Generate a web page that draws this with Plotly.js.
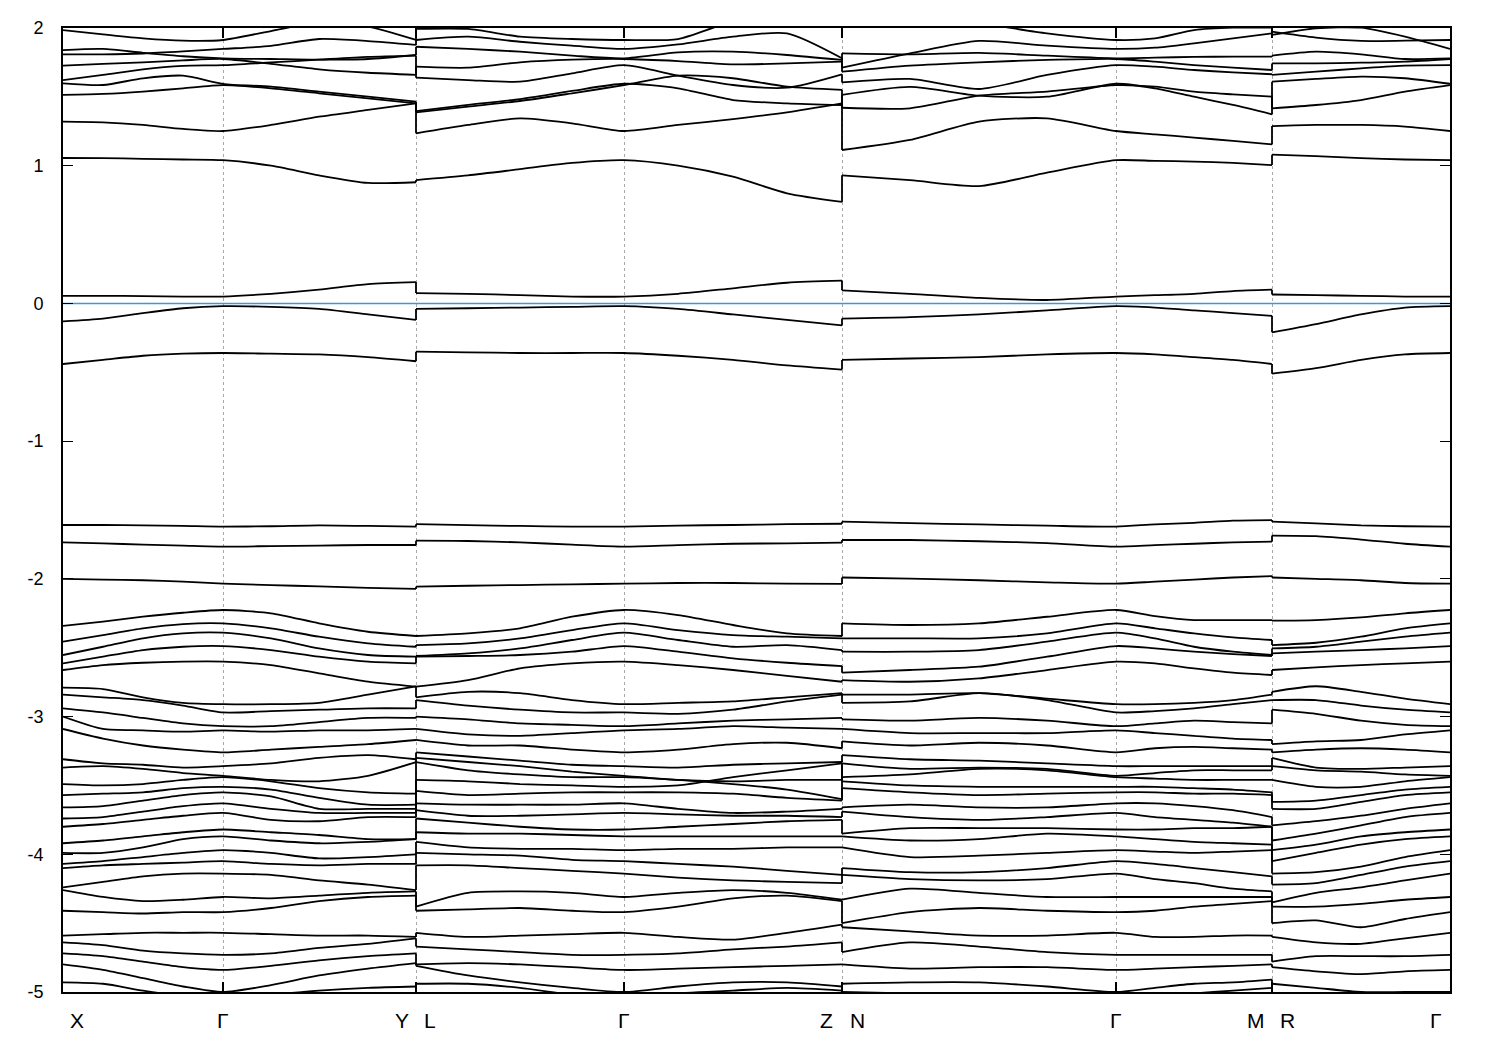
<!DOCTYPE html>
<html>
<head>
<meta charset="utf-8">
<script src="https://cdn.plot.ly/plotly-3.0.1.min.js"></script>
<style>html,body{margin:0;padding:0;background:#fff;}#chart{width:1500px;height:1050px;}</style>
</head>
<body>
<div id="chart"></div>
<script>
// k-path sample positions (path length units); duplicated points are the path breaks Y|L, Z|N, M|R
const kPath = [0,0.40,0.80,1.20,1.60,2.08,2.56,3.05,3.53,
               3.53,4.05,4.57,5.09,5.61,6.15,6.70,7.24,7.79,
               7.79,8.47,9.16,9.84,10.53,10.92,11.31,11.70,12.09,
               12.09,12.53,12.98,13.42,13.87];
const symPointK = [0,1.60,3.53,5.61,7.79,10.53,12.09,13.87];
const kLabels = ["X","Γ","Y","L","Γ","Z","N","Γ","M","R","Γ"];
const kLabelPos = [0,1.60,3.53,3.53,5.61,7.79,7.79,10.53,12.09,12.09,13.87];
const fermiLevel = 0;

// ---- bands above the Fermi level ----
const bandT1 = [1.985,1.954,1.925,1.908,1.913,1.978,2.04,2.01,1.913, 1.993,1.993,1.937,1.92,1.913,1.92,2.046,2.07,2.07, 2.07,2.07,2.034,1.961,1.913,1.925,1.985,2.002,2.002, 1.973,1.93,1.906,1.908,1.913];
const bandT2 = [1.84,1.848,1.82,1.795,1.78,1.775,1.77,1.775,1.804, 1.864,1.848,1.828,1.799,1.78,1.823,1.828,1.804,1.768, 1.816,1.809,1.819,1.799,1.78,1.785,1.79,1.792,1.792, 1.799,1.828,1.809,1.775,1.78];
const bandT3 = [1.809,1.809,1.815,1.83,1.848,1.87,1.92,1.905,1.877, 1.913,1.937,1.90,1.872,1.848,1.881,1.937,1.961,1.78, 1.712,1.816,1.906,1.872,1.848,1.857,1.889,1.925,1.961, 1.95,1.998,2.002,1.937,1.848];
const bandT4 = [1.727,1.74,1.75,1.765,1.775,1.74,1.70,1.675,1.66, 1.719,1.712,1.751,1.77,1.775,1.76,1.736,1.743,1.756, 1.683,1.727,1.751,1.768,1.775,1.756,1.731,1.712,1.695, 1.743,1.743,1.748,1.756,1.775];
const bandT5 = [1.622,1.659,1.70,1.725,1.73,1.75,1.77,1.79,1.80, 1.639,1.622,1.61,1.671,1.73,1.654,1.586,1.567,1.664, 1.605,1.63,1.557,1.659,1.73,1.719,1.695,1.678,1.664, 1.659,1.683,1.707,1.727,1.73];
const bandT6 = [1.598,1.586,1.635,1.654,1.595,1.574,1.538,1.501,1.465, 1.397,1.441,1.484,1.543,1.595,1.562,1.477,1.453,1.441, 1.514,1.572,1.509,1.501,1.595,1.562,1.501,1.441,1.373, 1.61,1.63,1.647,1.635,1.595];
const bandT7 = [1.514,1.521,1.538,1.562,1.585,1.562,1.526,1.489,1.453, 1.388,1.429,1.47,1.526,1.585,1.654,1.635,1.574,1.55, 1.421,1.417,1.509,1.538,1.585,1.574,1.538,1.518,1.501, 1.417,1.441,1.477,1.538,1.585];
const bandT8 = [1.32,1.315,1.296,1.267,1.252,1.296,1.356,1.405,1.453, 1.235,1.296,1.344,1.308,1.252,1.296,1.339,1.388,1.453, 1.114,1.187,1.32,1.344,1.252,1.228,1.204,1.18,1.155, 1.288,1.296,1.296,1.284,1.252];
const bandC1 = [1.056,1.055,1.05,1.045,1.04,1.0,0.93,0.875,0.88, 0.896,0.93,0.975,1.02,1.04,1.0,0.92,0.80,0.737, 0.93,0.895,0.852,0.95,1.04,1.035,1.03,1.02,1.005, 1.08,1.07,1.055,1.045,1.04];
const bandV0 = [0.055,0.055,0.053,0.05,0.05,0.07,0.10,0.14,0.155, 0.075,0.07,0.06,0.05,0.05,0.07,0.11,0.15,0.165, 0.095,0.07,0.04,0.025,0.05,0.06,0.07,0.09,0.10, 0.065,0.06,0.055,0.05,0.05];

// ---- bands below the Fermi level ----
const bandV1 = [-0.13,-0.11,-0.07,-0.035,-0.02,-0.025,-0.04,-0.08,-0.12, -0.04,-0.035,-0.03,-0.025,-0.02,-0.04,-0.08,-0.12,-0.16, -0.11,-0.10,-0.08,-0.05,-0.02,-0.03,-0.05,-0.07,-0.09, -0.21,-0.15,-0.08,-0.03,-0.02];
const bandV2 = [-0.44,-0.41,-0.38,-0.365,-0.36,-0.365,-0.37,-0.39,-0.42, -0.35,-0.355,-0.36,-0.36,-0.36,-0.38,-0.41,-0.45,-0.48, -0.41,-0.40,-0.39,-0.37,-0.36,-0.37,-0.39,-0.41,-0.44, -0.51,-0.47,-0.41,-0.37,-0.36];
const bandV3 = [-1.609,-1.609,-1.612,-1.616,-1.621,-1.618,-1.612,-1.616,-1.62, -1.603,-1.61,-1.616,-1.62,-1.621,-1.613,-1.609,-1.603,-1.60, -1.585,-1.596,-1.605,-1.614,-1.621,-1.604,-1.593,-1.577,-1.573, -1.585,-1.597,-1.612,-1.618,-1.621];
const bandV4 = [-1.735,-1.742,-1.752,-1.759,-1.766,-1.762,-1.758,-1.754,-1.754, -1.723,-1.725,-1.735,-1.752,-1.766,-1.755,-1.745,-1.742,-1.737, -1.718,-1.718,-1.727,-1.74,-1.766,-1.755,-1.745,-1.735,-1.73, -1.686,-1.69,-1.715,-1.745,-1.766];
const bandV5 = [-2.0,-2.005,-2.01,-2.02,-2.035,-2.045,-2.055,-2.065,-2.073, -2.057,-2.05,-2.045,-2.04,-2.035,-2.03,-2.03,-2.035,-2.037, -1.99,-1.998,-2.01,-2.025,-2.035,-2.02,-2.005,-1.99,-1.98, -1.99,-2.0,-2.01,-2.03,-2.035];
const bandW1 = [-2.342,-2.311,-2.275,-2.246,-2.226,-2.25,-2.323,-2.384,-2.415, -2.415,-2.396,-2.359,-2.275,-2.226,-2.263,-2.335,-2.396,-2.415, -2.323,-2.335,-2.323,-2.275,-2.226,-2.27,-2.299,-2.299,-2.299, -2.304,-2.299,-2.28,-2.25,-2.226];
const bandW2 = [-2.456,-2.408,-2.359,-2.328,-2.323,-2.359,-2.42,-2.468,-2.493, -2.481,-2.468,-2.432,-2.372,-2.323,-2.372,-2.408,-2.42,-2.432, -2.432,-2.432,-2.432,-2.396,-2.323,-2.359,-2.396,-2.425,-2.444, -2.481,-2.464,-2.42,-2.359,-2.323];
const bandW3 = [-2.553,-2.493,-2.432,-2.396,-2.391,-2.432,-2.505,-2.553,-2.565, -2.56,-2.541,-2.505,-2.444,-2.391,-2.444,-2.493,-2.481,-2.517, -2.529,-2.529,-2.517,-2.456,-2.391,-2.432,-2.493,-2.529,-2.553, -2.505,-2.493,-2.456,-2.42,-2.391];
const bandW4 = [-2.614,-2.565,-2.517,-2.493,-2.488,-2.517,-2.565,-2.601,-2.614, -2.565,-2.56,-2.553,-2.529,-2.488,-2.529,-2.577,-2.609,-2.633, -2.681,-2.662,-2.638,-2.565,-2.488,-2.505,-2.529,-2.546,-2.56, -2.541,-2.529,-2.517,-2.505,-2.488];
const bandW5 = [-2.662,-2.626,-2.609,-2.601,-2.601,-2.626,-2.686,-2.747,-2.783, -2.783,-2.735,-2.65,-2.614,-2.601,-2.626,-2.662,-2.705,-2.747, -2.735,-2.747,-2.723,-2.662,-2.601,-2.614,-2.65,-2.681,-2.698, -2.662,-2.643,-2.626,-2.614,-2.601];
const bandB1 = [-2.79,-2.80,-2.86,-2.90,-2.91,-2.91,-2.90,-2.84,-2.78, -2.86,-2.82,-2.83,-2.88,-2.91,-2.90,-2.89,-2.86,-2.83, -2.84,-2.84,-2.83,-2.87,-2.91,-2.91,-2.90,-2.88,-2.84, -2.82,-2.78,-2.82,-2.87,-2.91];
const bandB2 = [-2.84,-2.86,-2.88,-2.92,-2.97,-2.96,-2.95,-2.94,-2.94, -2.88,-2.92,-2.95,-2.97,-2.97,-2.98,-2.95,-2.89,-2.84, -2.90,-2.89,-2.83,-2.88,-2.97,-2.96,-2.94,-2.91,-2.88, -2.88,-2.88,-2.92,-2.95,-2.97];
const bandB3 = [-2.94,-2.97,-3.01,-3.05,-3.07,-3.07,-3.04,-3.01,-3.01, -3.00,-3.02,-3.05,-3.06,-3.07,-3.05,-3.03,-3.02,-3.01, -3.02,-3.03,-3.01,-3.03,-3.07,-3.05,-3.03,-3.04,-3.05, -2.95,-2.98,-3.03,-3.06,-3.07];
const bandB4 = [-3.00,-3.09,-3.10,-3.11,-3.10,-3.11,-3.10,-3.10,-3.09, -3.09,-3.13,-3.14,-3.12,-3.10,-3.09,-3.07,-3.08,-3.09, -3.09,-3.12,-3.12,-3.12,-3.10,-3.12,-3.14,-3.16,-3.17, -3.20,-3.18,-3.17,-3.13,-3.10];
const bandB5 = [-3.09,-3.16,-3.21,-3.24,-3.26,-3.24,-3.22,-3.20,-3.17, -3.17,-3.21,-3.21,-3.24,-3.26,-3.24,-3.20,-3.19,-3.23, -3.18,-3.21,-3.19,-3.21,-3.26,-3.23,-3.22,-3.23,-3.24, -3.26,-3.24,-3.23,-3.24,-3.26];
const bandB6 = [-3.31,-3.34,-3.35,-3.37,-3.36,-3.34,-3.30,-3.28,-3.31, -3.26,-3.29,-3.32,-3.35,-3.36,-3.37,-3.35,-3.34,-3.33, -3.28,-3.31,-3.32,-3.34,-3.36,-3.36,-3.36,-3.36,-3.36, -3.30,-3.37,-3.38,-3.37,-3.36];
const bandB7 = [-3.37,-3.36,-3.38,-3.41,-3.43,-3.46,-3.47,-3.43,-3.33, -3.30,-3.33,-3.36,-3.40,-3.43,-3.46,-3.47,-3.46,-3.46, -3.34,-3.38,-3.37,-3.38,-3.43,-3.41,-3.39,-3.39,-3.39, -3.36,-3.39,-3.40,-3.42,-3.43];
const bandB8 = [-3.49,-3.50,-3.49,-3.46,-3.44,-3.47,-3.52,-3.55,-3.56, -3.33,-3.39,-3.42,-3.44,-3.44,-3.46,-3.49,-3.53,-3.60, -3.44,-3.42,-3.38,-3.39,-3.44,-3.45,-3.46,-3.46,-3.46, -3.46,-3.51,-3.51,-3.47,-3.44];
const bandB9 = [-3.57,-3.56,-3.55,-3.52,-3.51,-3.53,-3.59,-3.64,-3.64, -3.46,-3.47,-3.49,-3.50,-3.51,-3.50,-3.44,-3.39,-3.34, -3.47,-3.50,-3.51,-3.51,-3.51,-3.51,-3.52,-3.53,-3.55, -3.62,-3.61,-3.57,-3.53,-3.51];
const bandB10 = [-3.66,-3.65,-3.61,-3.57,-3.55,-3.58,-3.67,-3.67,-3.67, -3.54,-3.57,-3.56,-3.55,-3.55,-3.55,-3.56,-3.59,-3.61, -3.52,-3.55,-3.57,-3.56,-3.55,-3.55,-3.56,-3.56,-3.57, -3.67,-3.67,-3.62,-3.57,-3.55];
const bandB11 = [-3.74,-3.73,-3.69,-3.65,-3.63,-3.67,-3.70,-3.70,-3.70, -3.63,-3.64,-3.64,-3.64,-3.63,-3.67,-3.70,-3.69,-3.67, -3.66,-3.64,-3.66,-3.66,-3.63,-3.63,-3.65,-3.68,-3.73, -3.79,-3.76,-3.72,-3.67,-3.63];
const bandB12 = [-3.80,-3.78,-3.75,-3.72,-3.70,-3.75,-3.76,-3.73,-3.73, -3.68,-3.72,-3.72,-3.71,-3.70,-3.71,-3.72,-3.72,-3.73, -3.69,-3.73,-3.75,-3.73,-3.70,-3.73,-3.75,-3.77,-3.80, -3.90,-3.85,-3.79,-3.73,-3.70];
const bandB13 = [-3.92,-3.90,-3.87,-3.84,-3.82,-3.84,-3.86,-3.89,-3.89, -3.74,-3.77,-3.80,-3.82,-3.82,-3.80,-3.78,-3.76,-3.75, -3.85,-3.81,-3.81,-3.81,-3.82,-3.82,-3.81,-3.81,-3.80, -3.97,-3.93,-3.87,-3.84,-3.82];
const bandB14 = [-3.99,-3.99,-3.95,-3.89,-3.87,-3.90,-3.92,-3.91,-3.89, -3.84,-3.85,-3.85,-3.86,-3.87,-3.87,-3.87,-3.87,-3.87, -3.87,-3.90,-3.89,-3.85,-3.87,-3.89,-3.91,-3.92,-3.93, -4.05,-3.99,-3.93,-3.89,-3.87];
const bandB15 = [-4.07,-4.05,-4.02,-3.99,-3.97,-3.99,-4.03,-4.02,-4.00, -3.91,-3.95,-3.96,-3.96,-3.97,-3.96,-3.96,-3.95,-3.95, -3.95,-4.02,-4.01,-3.99,-3.97,-3.98,-3.99,-3.98,-3.97, -4.14,-4.13,-4.09,-4.02,-3.97];
const bandB16 = [-4.10,-4.08,-4.07,-4.06,-4.05,-4.07,-4.08,-4.07,-4.07, -3.99,-4.00,-4.01,-4.04,-4.05,-4.07,-4.09,-4.12,-4.15, -4.10,-4.13,-4.13,-4.10,-4.05,-4.07,-4.10,-4.13,-4.16, -4.22,-4.21,-4.15,-4.09,-4.05];
const bandB17 = [-4.24,-4.20,-4.16,-4.14,-4.14,-4.15,-4.19,-4.22,-4.26, -4.08,-4.08,-4.10,-4.12,-4.14,-4.17,-4.19,-4.20,-4.21, -4.15,-4.18,-4.19,-4.18,-4.14,-4.18,-4.21,-4.25,-4.27, -4.35,-4.28,-4.24,-4.19,-4.14];
const bandB18 = [-4.26,-4.31,-4.34,-4.33,-4.31,-4.32,-4.30,-4.28,-4.27, -4.38,-4.28,-4.27,-4.28,-4.31,-4.28,-4.26,-4.28,-4.33, -4.33,-4.25,-4.28,-4.31,-4.31,-4.31,-4.31,-4.31,-4.31, -4.38,-4.38,-4.36,-4.33,-4.31];
const bandB19 = [-4.41,-4.42,-4.43,-4.42,-4.42,-4.39,-4.34,-4.31,-4.30, -4.41,-4.40,-4.39,-4.41,-4.42,-4.38,-4.32,-4.30,-4.34, -4.50,-4.42,-4.39,-4.41,-4.42,-4.41,-4.38,-4.36,-4.34, -4.50,-4.48,-4.53,-4.47,-4.42];
const bandB20 = [-4.59,-4.58,-4.57,-4.57,-4.57,-4.58,-4.59,-4.59,-4.60, -4.57,-4.60,-4.59,-4.58,-4.57,-4.60,-4.62,-4.57,-4.51, -4.53,-4.56,-4.59,-4.59,-4.57,-4.60,-4.60,-4.59,-4.59, -4.60,-4.64,-4.65,-4.61,-4.57];
const bandB21 = [-4.64,-4.66,-4.70,-4.72,-4.73,-4.72,-4.68,-4.65,-4.61, -4.67,-4.69,-4.71,-4.73,-4.73,-4.72,-4.69,-4.67,-4.64, -4.71,-4.64,-4.67,-4.71,-4.73,-4.73,-4.73,-4.73,-4.73, -4.78,-4.74,-4.74,-4.74,-4.73];
const bandB22 = [-4.72,-4.74,-4.78,-4.82,-4.84,-4.81,-4.77,-4.74,-4.72, -4.80,-4.79,-4.80,-4.82,-4.84,-4.83,-4.82,-4.81,-4.80, -4.80,-4.83,-4.82,-4.82,-4.84,-4.83,-4.82,-4.81,-4.80, -4.82,-4.85,-4.87,-4.85,-4.84];
const bandB23 = [-4.80,-4.84,-4.90,-4.96,-5.00,-4.95,-4.88,-4.83,-4.79, -4.81,-4.88,-4.93,-4.97,-5.00,-4.96,-4.93,-4.93,-4.96, -4.94,-4.93,-4.93,-4.96,-5.00,-4.97,-4.94,-4.93,-4.91, -4.94,-4.97,-5.00,-5.00,-5.00];
const bandB24 = [-4.93,-4.94,-4.99,-5.03,-5.05,-5.02,-4.99,-4.97,-4.96, -4.94,-4.94,-4.97,-5.02,-5.05,-5.01,-4.99,-4.97,-4.99, -5.00,-5.01,-5.02,-5.04,-5.05,-5.03,-5.01,-4.99,-4.97, -5.06,-5.07,-5.06,-5.05,-5.05];

const allBands = [bandT1,bandT2,bandT3,bandT4,bandT5,bandT6,bandT7,bandT8,bandC1,bandV0,
  bandV1,bandV2,bandV3,bandV4,bandV5,bandW1,bandW2,bandW3,bandW4,bandW5,
  bandB1,bandB2,bandB3,bandB4,bandB5,bandB6,bandB7,bandB8,bandB9,bandB10,bandB11,bandB12,
  bandB13,bandB14,bandB15,bandB16,bandB17,bandB18,bandB19,bandB20,bandB21,bandB22,bandB23,bandB24];

// segment boundaries: where the k-path repeats a position (a path break)
const segStarts = [0];
for (let i = 1; i < kPath.length; i++) if (kPath[i] === kPath[i-1]) segStarts.push(i);
const segRanges = segStarts.map((s, j) => [s, j + 1 < segStarts.length ? segStarts[j+1] - 1 : kPath.length - 1]);

const lineStyle = {color: '#000000', width: 1.8};
const traces = [];
allBands.forEach(b => {
  segRanges.forEach(([s, e], j) => {
    traces.push({type: 'scatter', mode: 'lines', x: kPath.slice(s, e + 1), y: b.slice(s, e + 1),
      line: Object.assign({shape: 'spline', smoothing: 0.7}, lineStyle), hoverinfo: 'skip', showlegend: false});
    if (j + 1 < segRanges.length) {
      // vertical connector at the path break
      traces.push({type: 'scatter', mode: 'lines', x: [kPath[e], kPath[e+1]], y: [b[e], b[e+1]],
        line: lineStyle, hoverinfo: 'skip', showlegend: false});
    }
  });
});
traces.push({
  type: 'scatter', mode: 'lines',
  x: [kPath[0], kPath[kPath.length-1]], y: [fermiLevel, fermiLevel],
  line: {color: '#3a9ad9', width: 1.4}, hoverinfo: 'skip', showlegend: false
});

const labelShift = [14,0,-14,14,0,-16,15,0,-16,15,-14];
const annotations = kLabels.map((t,i) => ({
  text: t, x: kLabelPos[i], xref: 'x', y: 0, yref: 'paper',
  yanchor: 'middle', xanchor: 'center', yshift: -28, xshift: labelShift[i],
  showarrow: false, font: {family: 'Liberation Sans, Arial, sans-serif', size: 21, color: '#000'}
}));

const layout = {
  width: 1500, height: 1050,
  margin: {l: 63, r: 50, t: 28, b: 58},
  paper_bgcolor: '#ffffff', plot_bgcolor: '#ffffff',
  showlegend: false,
  font: {family: 'Liberation Sans, Arial, sans-serif', size: 18, color: '#000'},
  xaxis: {
    range: [kPath[0], kPath[kPath.length-1]],
    tickvals: symPointK, showticklabels: false,
    ticks: 'inside', ticklen: 10, tickwidth: 1.2, tickcolor: '#000',
    showline: true, linecolor: '#000', linewidth: 1.8, mirror: 'ticks',
    showgrid: true, gridcolor: '#a8a8a8', gridwidth: 1, griddash: 'dot',
    zeroline: false, fixedrange: true
  },
  yaxis: {
    range: [-5, 2], tickvals: [-5,-4,-3,-2,-1,0,1,2],
    ticktext: ['-5','-4','-3','-2','-1','0','1','2'],
    ticks: 'inside', ticklen: 10, tickwidth: 1.2, tickcolor: '#000',
    showline: true, linecolor: '#000', linewidth: 1.8, mirror: 'ticks',
    showgrid: false, zeroline: false, ticklabelstandoff: 14,
    tickfont: {family: 'Liberation Sans, Arial, sans-serif', size: 18, color: '#000'},
    fixedrange: true
  },
  annotations: annotations
};

Plotly.newPlot('chart', traces, layout, {displayModeBar: false, staticPlot: true});
</script>
</body>
</html>
